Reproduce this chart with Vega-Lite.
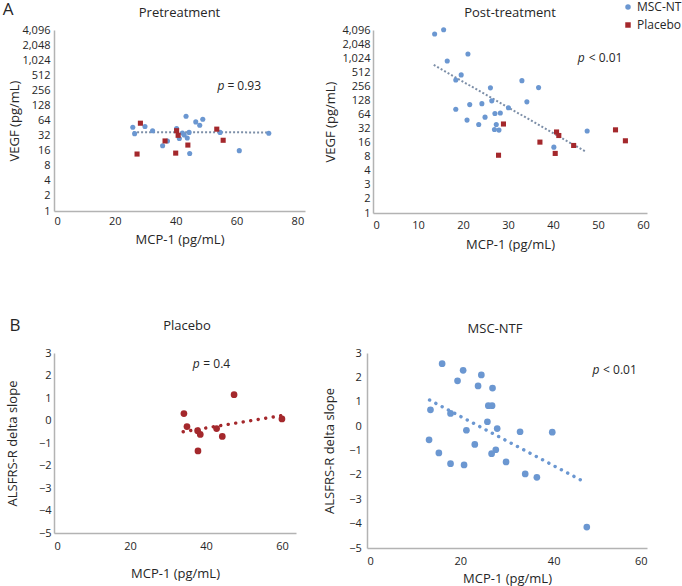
{
  "$schema": "https://vega.github.io/schema/vega-lite/v6.json",
  "padding": {"left": 2, "top": 0, "right": 0, "bottom": 0},
  "config": {
    "font": "Open Sans",
    "view": {"stroke": null},
    "axis": {"grid": false, "ticks": false, "domainColor": "#b3b3b3", "domainWidth": 1.5, "labelFontSize": 11, "labelColor": "#262626", "titleFontSize": 13, "titleFontWeight": "normal", "titleColor": "#262626", "labelFont": "Open Sans", "titleFont": "Open Sans"},
    "title": {"fontSize": 13, "fontWeight": "normal", "color": "#262626", "font": "Open Sans"},
    "text": {"font": "Open Sans", "color": "#262626"}
  },
  "datasets": {
    "pre": [
      {"x": 25.9, "y": 47, "group": "MSC-NTF"}, {"x": 26.5, "y": 35, "group": "MSC-NTF"}, {"x": 29.9, "y": 48.5, "group": "MSC-NTF"},
      {"x": 32.4, "y": 40, "group": "MSC-NTF"}, {"x": 35.7, "y": 20, "group": "MSC-NTF"}, {"x": 37.3, "y": 25, "group": "MSC-NTF"},
      {"x": 40.3, "y": 44, "group": "MSC-NTF"}, {"x": 41.2, "y": 28, "group": "MSC-NTF"}, {"x": 42.2, "y": 36, "group": "MSC-NTF"},
      {"x": 42.8, "y": 33, "group": "MSC-NTF"}, {"x": 43.4, "y": 78, "group": "MSC-NTF"}, {"x": 43.8, "y": 28.6, "group": "MSC-NTF"},
      {"x": 44.4, "y": 37, "group": "MSC-NTF"}, {"x": 44.6, "y": 14, "group": "MSC-NTF"}, {"x": 46.6, "y": 60, "group": "MSC-NTF"},
      {"x": 47.9, "y": 51.5, "group": "MSC-NTF"}, {"x": 48.9, "y": 68, "group": "MSC-NTF"}, {"x": 54.6, "y": 37, "group": "MSC-NTF"},
      {"x": 60.9, "y": 16, "group": "MSC-NTF"}, {"x": 70.6, "y": 35.6, "group": "MSC-NTF"},
      {"x": 28.4, "y": 56.5, "group": "Placebo"}, {"x": 27.3, "y": 13.7, "group": "Placebo"}, {"x": 36.5, "y": 25, "group": "Placebo"},
      {"x": 40.3, "y": 40, "group": "Placebo"}, {"x": 40.8, "y": 32.4, "group": "Placebo"}, {"x": 40.0, "y": 14.3, "group": "Placebo"},
      {"x": 44.0, "y": 20.7, "group": "Placebo"}, {"x": 53.5, "y": 43, "group": "Placebo"}, {"x": 55.6, "y": 25.8, "group": "Placebo"}
    ],
    "post": [
      {"x": 13.7, "y": 3372, "group": "MSC-NTF"}, {"x": 15.7, "y": 4150, "group": "MSC-NTF"}, {"x": 21.1, "y": 1260, "group": "MSC-NTF"},
      {"x": 16.5, "y": 891, "group": "MSC-NTF"}, {"x": 19.6, "y": 449, "group": "MSC-NTF"}, {"x": 18.4, "y": 350, "group": "MSC-NTF"},
      {"x": 26.1, "y": 237, "group": "MSC-NTF"}, {"x": 33.1, "y": 338, "group": "MSC-NTF"}, {"x": 36.8, "y": 240, "group": "MSC-NTF"},
      {"x": 26.4, "y": 125, "group": "MSC-NTF"}, {"x": 34.2, "y": 119, "group": "MSC-NTF"}, {"x": 18.4, "y": 83, "group": "MSC-NTF"},
      {"x": 21.5, "y": 104, "group": "MSC-NTF"}, {"x": 24.2, "y": 109, "group": "MSC-NTF"}, {"x": 30.1, "y": 89, "group": "MSC-NTF"},
      {"x": 28.3, "y": 69, "group": "MSC-NTF"}, {"x": 27.1, "y": 67, "group": "MSC-NTF"}, {"x": 24.9, "y": 56, "group": "MSC-NTF"},
      {"x": 20.9, "y": 48.5, "group": "MSC-NTF"}, {"x": 23.5, "y": 39, "group": "MSC-NTF"}, {"x": 27.4, "y": 39, "group": "MSC-NTF"},
      {"x": 27.0, "y": 30.5, "group": "MSC-NTF"}, {"x": 28.0, "y": 29.6, "group": "MSC-NTF"}, {"x": 40.2, "y": 12.8, "group": "MSC-NTF"},
      {"x": 47.6, "y": 28.4, "group": "MSC-NTF"},
      {"x": 29.0, "y": 40, "group": "Placebo"}, {"x": 27.9, "y": 8.6, "group": "Placebo"}, {"x": 37.1, "y": 16.4, "group": "Placebo"},
      {"x": 40.8, "y": 27, "group": "Placebo"}, {"x": 41.3, "y": 22.7, "group": "Placebo"}, {"x": 40.5, "y": 9.4, "group": "Placebo"},
      {"x": 44.6, "y": 13.9, "group": "Placebo"}, {"x": 53.9, "y": 30, "group": "Placebo"}, {"x": 56.1, "y": 17.5, "group": "Placebo"}
    ],
    "pretrend": [{"x": 26, "y": 37.5}, {"x": 70.6, "y": 37}],
    "posttrend": [{"x": 13.5, "y": 734}, {"x": 47.3, "y": 10.2}],
    "plc": [
      {"x": 34.2, "y": 0.31}, {"x": 35.0, "y": -0.27}, {"x": 37.8, "y": -0.45}, {"x": 38.5, "y": -0.62}, {"x": 42.8, "y": -0.36},
      {"x": 44.3, "y": -0.71}, {"x": 37.9, "y": -1.35}, {"x": 47.4, "y": 1.15}, {"x": 60.0, "y": 0.07}
    ],
    "plctrend": [{"x": 34, "y": -0.5}, {"x": 60, "y": 0.22}],
    "msc": [
      {"x": 16.1, "y": 2.56}, {"x": 20.6, "y": 2.29}, {"x": 24.5, "y": 2.1}, {"x": 19.4, "y": 1.86}, {"x": 23.8, "y": 1.65},
      {"x": 26.9, "y": 1.56}, {"x": 26.0, "y": 0.84}, {"x": 26.8, "y": 0.84}, {"x": 13.6, "y": 0.67}, {"x": 17.9, "y": 0.52},
      {"x": 25.8, "y": 0.18}, {"x": 27.9, "y": -0.1}, {"x": 21.3, "y": -0.17}, {"x": 32.8, "y": -0.23}, {"x": 39.7, "y": -0.25},
      {"x": 13.3, "y": -0.56}, {"x": 23.1, "y": -0.75}, {"x": 27.6, "y": -0.97}, {"x": 26.7, "y": -1.13}, {"x": 15.4, "y": -1.1},
      {"x": 29.8, "y": -1.47}, {"x": 17.9, "y": -1.54}, {"x": 20.8, "y": -1.59}, {"x": 33.9, "y": -1.96}, {"x": 36.4, "y": -2.1},
      {"x": 47.1, "y": -4.14}
    ],
    "msctrend": [{"x": 13.4, "y": 1.07}, {"x": 46.1, "y": -2.24}],
    "note1": [{"x": 53.7, "y": 312, "rest": "= 0.93"}],
    "note2": [{"x": 45.5, "y": 1017, "rest": "< 0.01"}],
    "note3": [{"x": 36.5, "y": 2.53, "rest": "= 0.4"}],
    "note4": [{"x": 48.3, "y": 2.31, "rest": "< 0.01"}],
    "letterA": [{"x": -15.06, "y": 10370, "t": "A"}],
    "letterB": [{"x": -10.3, "y": 4.22, "t": "B"}]
  },
  "columns": 1,
  "align": "none",
  "spacing": {"row": 65, "column": 0},
  "concat": [
    {
      "spacing": 19,
      "resolve": {"scale": {"color": "independent", "shape": "independent"}},
      "hconcat": [
        {
          "width": 251, "height": 181,
          "title": {"text": "Pretreatment", "offset": -19.7},
          "encoding": {
            "x": {"field": "x", "type": "quantitative", "scale": {"domain": [0, 82.5], "nice": false, "zero": false},
                  "axis": {"title": "MCP-1 (pg/mL)", "values": [0, 20, 40, 60, 80], "labelPadding": 4, "titlePadding": 7}},
            "y": {"field": "y", "type": "quantitative", "scale": {"type": "log", "base": 2, "domain": [1, 4096], "nice": false},
                  "axis": {"title": "VEGF (pg/mL)", "values": [1, 2, 4, 8, 16, 32, 64, 128, 256, 512, 1024, 2048, 4096], "format": ",", "labelPadding": 4, "titlePadding": 0}}
          },
          "layer": [
            {"data": {"name": "pretrend"}, "mark": {"type": "line", "color": "#7d8fa8", "strokeWidth": 2, "strokeDash": [2, 2]}},
            {"data": {"name": "pre"}, "mark": {"type": "point", "filled": true, "opacity": 1, "size": 26},
             "encoding": {
               "color": {"field": "group", "type": "nominal", "scale": {"domain": ["MSC-NTF", "Placebo"], "range": ["#6b97d1", "#a4282c"]}, "legend": null},
               "shape": {"field": "group", "type": "nominal", "scale": {"domain": ["MSC-NTF", "Placebo"], "range": ["circle", "square"]}, "legend": null}
             }},
            {"data": {"name": "note1"}, "mark": {"type": "text", "align": "left", "baseline": "middle", "fontSize": 12, "fontStyle": "italic"}, "encoding": {"text": {"value": "p"}}},
            {"data": {"name": "note1"}, "mark": {"type": "text", "align": "left", "baseline": "middle", "fontSize": 12, "dx": 10}, "encoding": {"text": {"field": "rest"}}},
            {"data": {"name": "letterA"}, "mark": {"type": "text", "align": "center", "baseline": "middle", "fontSize": 17}, "encoding": {"text": {"field": "t"}}}
          ]
        },
        {
          "width": 274, "height": 183,
          "title": {"text": "Post-treatment", "offset": -18.5},
          "encoding": {
            "x": {"field": "x", "type": "quantitative", "scale": {"domain": [0, 60.9], "nice": false, "zero": false},
                  "axis": {"title": "MCP-1 (pg/mL)", "values": [0, 10, 20, 30, 40, 50, 60], "labelPadding": 6, "titlePadding": 8}},
            "y": {"field": "y", "type": "quantitative", "scale": {"type": "log", "base": 2, "domain": [0.5, 4096], "nice": false},
                  "axis": {"title": "VEGF (pg/mL)", "values": [0.5, 1, 2, 4, 8, 16, 32, 64, 128, 256, 512, 1024, 2048, 4096],
                           "labelExpr": "datum.value < 0.9 ? '1' : datum.value < 1.5 ? '2' : datum.value < 3 ? '3' : format(datum.value, ',')",
                           "labelPadding": 3, "titlePadding": 4}}
          },
          "layer": [
            {"data": {"name": "posttrend"}, "mark": {"type": "line", "color": "#7d8fa8", "strokeWidth": 2, "strokeDash": [2, 2]}},
            {"data": {"name": "post"}, "mark": {"type": "point", "filled": true, "opacity": 1, "size": 26},
             "encoding": {
               "color": {"field": "group", "type": "nominal", "scale": {"domain": ["MSC-NTF", "Placebo"], "range": ["#6b97d1", "#a4282c"]},
                         "legend": {"orient": "none", "legendX": 249, "legendY": -29, "title": null, "padding": 0, "offset": 0, "labelFontSize": 12, "labelColor": "#262626", "symbolSize": 30, "rowPadding": 6, "labelOffset": 3, "labelLimit": 300}},
               "shape": {"field": "group", "type": "nominal", "scale": {"domain": ["MSC-NTF", "Placebo"], "range": ["circle", "square"]},
                         "legend": {"orient": "none", "legendX": 249, "legendY": -29, "title": null, "padding": 0, "offset": 0, "labelFontSize": 12, "labelColor": "#262626", "symbolSize": 30, "rowPadding": 6, "labelOffset": 3, "labelLimit": 300}}
             }},
            {"data": {"name": "note2"}, "mark": {"type": "text", "align": "left", "baseline": "middle", "fontSize": 12, "fontStyle": "italic"}, "encoding": {"text": {"value": "p"}}},
            {"data": {"name": "note2"}, "mark": {"type": "text", "align": "left", "baseline": "middle", "fontSize": 12, "dx": 11}, "encoding": {"text": {"field": "rest"}}}
          ]
        }
      ]
    },
    {
      "spacing": 27,
      "hconcat": [
        {
          "width": 242, "height": 180,
          "title": {"text": "Placebo", "offset": -16.5, "dx": 12},
          "encoding": {
            "x": {"field": "x", "type": "quantitative", "scale": {"domain": [0, 63.7], "nice": false, "zero": false},
                  "axis": {"title": "MCP-1 (pg/mL)", "values": [0, 20, 40, 60], "labelPadding": 7.5, "titlePadding": 16}},
            "y": {"field": "y", "type": "quantitative", "scale": {"domain": [-5, 3], "nice": false, "zero": false},
                  "axis": {"title": "ALSFRS-R delta slope", "values": [-5, -4, -3, -2, -1, 0, 1, 2, 3], "labelPadding": 3, "titlePadding": 19}}
          },
          "layer": [
            {"data": {"name": "plctrend"}, "mark": {"type": "line", "color": "#a4282c", "strokeWidth": 3.4, "strokeDash": [0.1, 7.5], "strokeCap": "round"}},
            {"data": {"name": "plc"}, "mark": {"type": "circle", "color": "#a4282c", "opacity": 1, "size": 45}},
            {"data": {"name": "note3"}, "mark": {"type": "text", "align": "left", "baseline": "middle", "fontSize": 12, "fontStyle": "italic"}, "encoding": {"text": {"value": "p"}}},
            {"data": {"name": "note3"}, "mark": {"type": "text", "align": "left", "baseline": "middle", "fontSize": 12, "dx": 10.7}, "encoding": {"text": {"field": "rest"}}},
            {"data": {"name": "letterB"}, "mark": {"type": "text", "align": "center", "baseline": "middle", "fontSize": 17}, "encoding": {"text": {"field": "t"}}}
          ]
        },
        {
          "width": 280, "height": 195,
          "title": {"text": "MSC-NTF", "offset": 11, "dx": -12},
          "encoding": {
            "x": {"field": "x", "type": "quantitative", "scale": {"domain": [0, 60], "nice": false, "zero": false},
                  "axis": {"title": "MCP-1 (pg/mL)", "values": [0, 20, 40, 60], "labelPadding": 7.8, "titlePadding": 6}},
            "y": {"field": "y", "type": "quantitative", "scale": {"domain": [-5, 3], "nice": false, "zero": false},
                  "axis": {"title": "ALSFRS-R delta slope", "values": [-5, -4, -3, -2, -1, 0, 1, 2, 3], "labelPadding": 5.7, "titlePadding": 12}}
          },
          "layer": [
            {"data": {"name": "msctrend"}, "mark": {"type": "line", "color": "#6b97d1", "strokeWidth": 3.4, "strokeDash": [0.1, 7], "strokeCap": "round"}},
            {"data": {"name": "msc"}, "mark": {"type": "circle", "color": "#6b97d1", "opacity": 1, "size": 45}},
            {"data": {"name": "note4"}, "mark": {"type": "text", "align": "left", "baseline": "middle", "fontSize": 12, "fontStyle": "italic"}, "encoding": {"text": {"value": "p"}}},
            {"data": {"name": "note4"}, "mark": {"type": "text", "align": "left", "baseline": "middle", "fontSize": 12, "dx": 10.7}, "encoding": {"text": {"field": "rest"}}}
          ]
        }
      ]
    }
  ]
}
